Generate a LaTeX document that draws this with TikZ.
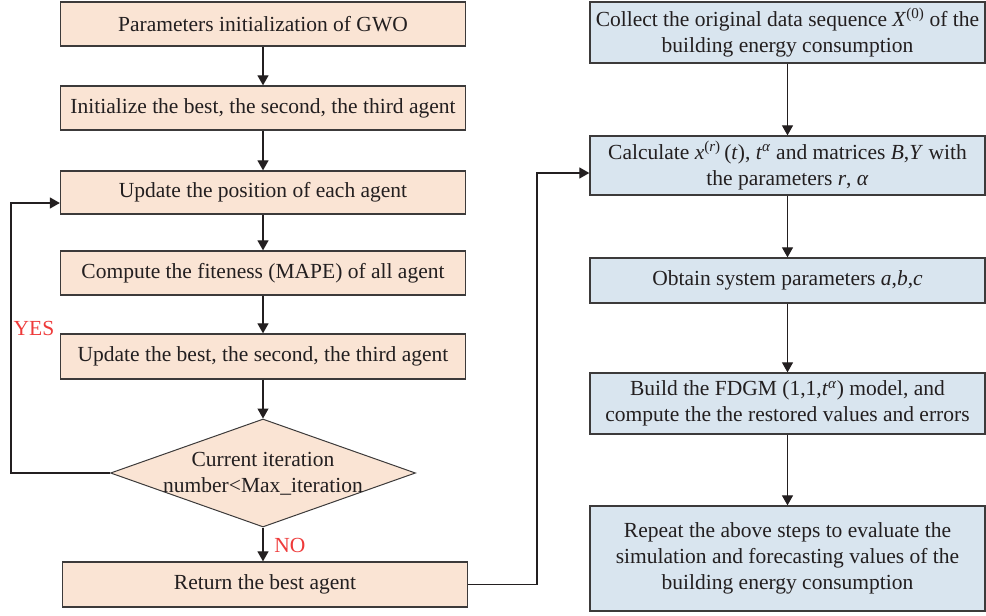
\documentclass[tikz,border=0pt]{standalone}
\usepackage{fontspec}
\setmainfont{Liberation Serif}
\usetikzlibrary{shapes.geometric,arrows.meta,calc}
\definecolor{peach}{HTML}{FAE4D4}
\definecolor{paleblue}{HTML}{D9E5EF}
\definecolor{edgegray}{HTML}{3C3A3A}
\definecolor{inktext}{HTML}{231F20}
\definecolor{labred}{HTML}{EE3A3A}
\newcommand{\sps}[1]{\textsuperscript{#1}}
\begin{document}
\begin{tikzpicture}[x=1pt,y=-1pt,
  every node/.style={font=\fontsize{21.5}{26}\selectfont, text=inktext},
  lbox/.style={draw=edgegray, line width=1.3pt, fill=peach, minimum width=405pt, inner sep=0pt, align=center},
  rbox/.style={draw=edgegray, line width=1.3pt, fill=paleblue, minimum width=395pt, inner sep=0pt, align=center},
  conn/.style={draw=inktext, line width=1.2pt, -{Triangle[length=10pt,width=11pt]}},
  lab/.style={text=labred, font=\fontsize{21.5}{24}\selectfont}
]
\useasboundingbox (0,0) rectangle (986,616);
% left column
\node[lbox, minimum height=44pt] (p1) at (263,24) {Parameters initialization of GWO};
\node[lbox, minimum height=44pt] (p2) at (263,108) {Initialize the best, the second, the third agent};
\node[lbox, minimum height=43pt] (p3) at (263,192.5) {Update the position of each agent};
\node[lbox, minimum height=44pt] (p4) at (263,273) {Compute the fiteness (MAPE) of all agent};
\node[lbox, minimum height=45pt] (p5) at (263,356.5) {Update the best, the second, the third agent};
\node[diamond, draw=edgegray, line width=1pt, fill=peach, minimum width=305pt, minimum height=108pt, inner sep=0pt] (dia) at (263,473) {};
\node[align=center] (diatext) at (263,474) {Current iteration\\number<Max\_iteration};
\node[lbox, minimum height=45pt] (ret) at (265,584.5) {Return the best agent};
% right column
\node[rbox, minimum height=61pt] (c1) at (787.5,32.5) {Collect the original data sequence \textit{X}\sps{(0)} of the\\building energy consumption};
\node[rbox, minimum height=59pt] (c2) at (787.5,165.5) {Calculate \textit{x}\sps{(\textit{r})}\,(\textit{t}), \textit{t}\sps{\textit{α}} and matrices \textit{B},\textit{Y} with\\the parameters \textit{r}, \textit{α}};
\node[rbox, minimum height=45pt] (c3) at (787.5,280.5) {Obtain system parameters \textit{a},\textit{b},\textit{c}};
\node[rbox, minimum height=61pt] (c4) at (787.5,403.5) {Build the FDGM (1,1,\textit{t}\sps{\textit{α}}) model, and\\compute the the restored values and errors};
\node[rbox, minimum height=105pt] (c5) at (787.5,558.5) {Repeat the above steps to evaluate the\\simulation and forecasting values of the\\building energy consumption};
% connectors left
\draw[conn] (p1) -- (p2);
\draw[conn] (p2) -- (p3);
\draw[conn] (p3) -- (p4);
\draw[conn] (p4) -- (p5);
\draw[conn] (p5) -- (dia);
\draw[conn] (dia) -- (ret.north -| dia);
\coordinate (lb) at (11,203);
\draw[conn] (dia.west) -| (lb) -- (p3.west |- lb);
% connectors right
\draw[conn] (c1) -- (c2);
\draw[conn] (c2) -- (c3);
\draw[conn] (c3) -- (c4);
\draw[conn] (c4) -- (c5);
\coordinate (rb) at (537,173);
\draw[conn] (ret.east) -| (rb) -- (c2.west |- rb);
% labels
\node[lab] (yes) at (34,328) {YES};
\node[lab] (no) at (290,545) {NO};
\end{tikzpicture}
\end{document}
